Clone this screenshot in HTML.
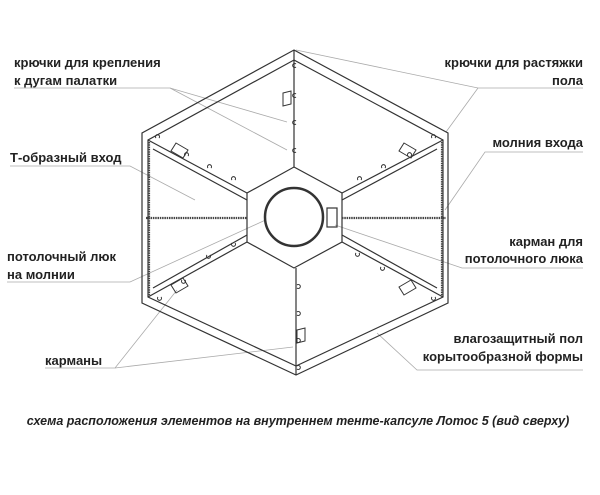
<!DOCTYPE html>
<html><head><meta charset="utf-8"><style>
html,body{margin:0;padding:0;background:#fff;}
svg{display:block;}
text{font-family:"Liberation Sans",sans-serif;font-weight:bold;font-size:13px;fill:#222;}
</style></head><body>
<svg width="600" height="495" viewBox="0 0 600 495">
<g fill="none" stroke="#aaa" stroke-width="0.8">
<polyline points="14,88 170,88 287,122"/><line x1="170" y1="88" x2="287" y2="150"/>
<polyline points="10,166 130,166 195,200"/>
<polyline points="7,282 130,282 283,212"/>
<polyline points="45,368 115,368 177,290"/><line x1="115" y1="368" x2="293" y2="347"/>
<polyline points="583,88 478,88 296,50"/><line x1="478" y1="88" x2="446" y2="132"/>
<polyline points="583,152 485,152 445,210"/>
<polyline points="583,268 462,268 335,225"/>
<polyline points="583,370 417,370 377,333"/>
</g>
<g fill="none" stroke="#333" stroke-width="1.2">
<polygon points="294,50 448,133 448,303 296,375 142,303 142,133"/>
<polygon points="294,60 443,140 443,297 296,366 148,297 148,140"/>
<polygon points="294,167 342,193 342,242 294,268 247,242 247,193"/>
<line x1="294" y1="50" x2="294" y2="167"/><line x1="296" y1="268" x2="296" y2="375"/>
<line x1="247" y1="193" x2="148" y2="140"/><line x1="247" y1="200" x2="153" y2="149"/>
<line x1="342" y1="193" x2="443" y2="140"/><line x1="342" y1="200" x2="437" y2="149"/>
<line x1="247" y1="242" x2="148" y2="297"/><line x1="247" y1="235" x2="153" y2="288"/>
<line x1="342" y1="242" x2="443" y2="297"/><line x1="342" y1="235" x2="437" y2="288"/>
<rect x="327" y="208" width="10" height="19"/>
</g>
<g fill="none" stroke="#444" stroke-width="2.2" stroke-dasharray="1.5 0.8">
<line x1="146" y1="218" x2="247" y2="218"/><line x1="342" y1="218" x2="446" y2="218"/>
<line x1="149" y1="142" x2="149" y2="296"/><line x1="442" y1="142" x2="442" y2="296"/>
</g>
<circle cx="294" cy="217" r="29" fill="#fff" stroke="#333" stroke-width="2.5"/>
<g fill="none" stroke="#333" stroke-width="1">
<polygon points="283,93 291,91 291,104 283,106"/>
<polygon points="297,330 305,328 305,341 297,343"/>
<polygon points="176,143 188,150 183,158 171,151"/>
<polygon points="404,143 416,150 411,158 399,151"/>
<polygon points="171,285 183,278 188,286 176,293"/>
<polygon points="399,287 411,280 416,288 404,295"/>
</g>
<g fill="none" stroke="#333" stroke-width="1">
<path d="M296,64 a2,2 0 1,0 0,3"/><path d="M296,94 a2,2 0 1,0 0,3"/><path d="M296,121 a2,2 0 1,0 0,3"/><path d="M296,149 a2,2 0 1,0 0,3"/>
<path d="M297,285 a2,2 0 1,1 0,3"/><path d="M297,312 a2,2 0 1,1 0,3"/><path d="M297,339 a2,2 0 1,1 0,3"/><path d="M297,366 a2,2 0 1,1 0,3"/>
<path d="M156,138 a2,2 0 1,1 3,0"/><path d="M185,156 a2,2 0 1,1 3,0"/><path d="M208,168 a2,2 0 1,1 3,0"/><path d="M232,180 a2,2 0 1,1 3,0"/>
<path d="M432,138 a2,2 0 1,1 3,0"/><path d="M408,156 a2,2 0 1,1 3,0"/><path d="M382,168 a2,2 0 1,1 3,0"/><path d="M358,180 a2,2 0 1,1 3,0"/>
<path d="M158,297 a2,2 0 1,0 3,0"/><path d="M182,280 a2,2 0 1,0 3,0"/><path d="M207,255 a2,2 0 1,0 3,0"/><path d="M232,243 a2,2 0 1,0 3,0"/>
<path d="M432,297 a2,2 0 1,0 3,0"/><path d="M381,267 a2,2 0 1,0 3,0"/><path d="M356,253 a2,2 0 1,0 3,0"/>
</g>
<g>
<text x="14" y="67">крючки для крепления</text>
<text x="14" y="85">к дугам палатки</text>
<text x="10" y="162">Т-образный вход</text>
<text x="7" y="261">потолочный люк</text>
<text x="7" y="279">на молнии</text>
<text x="45" y="365">карманы</text>
<text x="583" y="67" text-anchor="end">крючки для растяжки</text>
<text x="583" y="85" text-anchor="end">пола</text>
<text x="583" y="147" text-anchor="end">молния входа</text>
<text x="583" y="246" text-anchor="end">карман для</text>
<text x="583" y="263" text-anchor="end">потолочного люка</text>
<text x="583" y="343" text-anchor="end">влагозащитный пол</text>
<text x="583" y="361" text-anchor="end">корытообразной формы</text>
<text x="298" y="425" text-anchor="middle" font-style="italic" style="font-size:12.5px">схема расположения элементов на внутреннем тенте-капсуле Лотос 5 (вид сверху)</text>
</g>
</svg>
</body></html>
